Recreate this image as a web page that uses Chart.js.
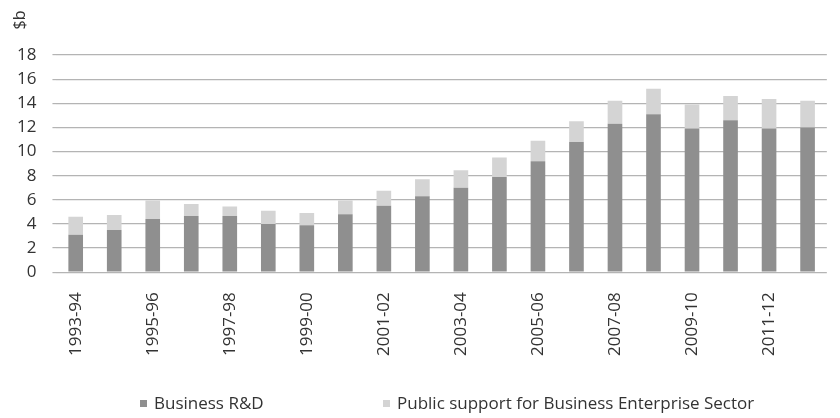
<!DOCTYPE html>
<html>
<head>
<meta charset="utf-8">
<script src="https://cdn.jsdelivr.net/npm/chart.js@4/dist/chart.umd.min.js"></script>
<style>
  html, body { margin: 0; padding: 0; background: #fff; }
  #wrap { width: 840px; height: 418px; position: relative; }
</style>
</head>
<body>
<div id="wrap"><canvas id="rdChart"></canvas></div>
<script>
// Financial years
const years = [
  '1993-94', '1994-95', '1995-96', '1996-97', '1997-98', '1998-99', '1999-00',
  '2000-01', '2001-02', '2002-03', '2003-04', '2004-05', '2005-06', '2006-07',
  '2007-08', '2008-09', '2009-10', '2010-11', '2011-12', '2012-13'
];
// $b
const businessRD = [3.1, 3.5, 4.4, 4.65, 4.65, 4.0, 3.9, 4.8, 5.5, 6.3,
                    7.0, 7.9, 9.2, 10.8, 12.3, 13.1, 11.9, 12.6, 11.9, 12.0];
const publicSupport = [1.5, 1.25, 1.55, 1.0, 0.8, 1.1, 1.0, 1.15, 1.25, 1.4,
                       1.45, 1.6, 1.7, 1.7, 1.9, 2.1, 2.0, 2.0, 2.45, 2.2];
const yMax = 18;
const yStep = 2;

const fontFamily = '"Open Sans", "Liberation Sans", sans-serif';
const textColor = '#333';

// "$b" written sideways above the axis
const unitLabel = {
  id: 'unitLabel',
  afterDraw(chart) {
    const ctx = chart.ctx;
    ctx.save();
    ctx.translate(20, 20);
    ctx.rotate(-Math.PI / 2);
    ctx.font = '16px ' + fontFamily;
    ctx.fillStyle = textColor;
    ctx.textAlign = 'center';
    ctx.textBaseline = 'middle';
    ctx.fillText('$b', 0, 0);
    ctx.restore();
  }
};

// legend drawn by hand so the two entries sit far apart like the original
const bottomLegend = {
  id: 'bottomLegend',
  afterDraw(chart) {
    const ctx = chart.ctx;
    const starts = [140, 383];
    const y = 404;
    ctx.save();
    ctx.font = '17px ' + fontFamily;
    ctx.textBaseline = 'middle';
    chart.data.datasets.forEach((ds, i) => {
      const x = starts[i];
      ctx.fillStyle = ds.backgroundColor;
      ctx.fillRect(x, y - 4, 7, 7);
      ctx.fillStyle = textColor;
      ctx.fillText(ds.label, x + 14, y);
    });
    ctx.restore();
  }
};

new Chart(document.getElementById('rdChart'), {
  type: 'bar',
  data: {
    labels: years,
    datasets: [
      {
        label: 'Business R&D',
        data: businessRD,
        backgroundColor: '#8f8f8f',
        barPercentage: 0.76,
        categoryPercentage: 0.5
      },
      {
        label: 'Public support for Business Enterprise Sector',
        data: publicSupport,
        backgroundColor: '#d4d4d4',
        barPercentage: 0.76,
        categoryPercentage: 0.5
      }
    ]
  },
  options: {
    responsive: true,
    maintainAspectRatio: false,
    animation: false,
    layout: { padding: { top: 55, right: 1, left: 1, bottom: 50 } },
    plugins: {
      legend: { display: false },
      tooltip: { enabled: false }
    },
    scales: {
      x: {
        stacked: true,
        grid: { display: false },
        border: { display: false },
        ticks: {
          autoSkip: false,
          maxRotation: 90,
          minRotation: 90,
          padding: 12,
          color: textColor,
          font: { family: fontFamily, size: 17 },
          callback: function(value, index) {
            return index % 2 === 0 ? years[index] : '';
          }
        }
      },
      y: {
        stacked: true,
        min: 0,
        max: yMax,
        grid: { color: '#b4b4b4', lineWidth: 1.2, tickLength: 4 },
        border: { display: false },
        ticks: {
          stepSize: yStep,
          autoSkip: false,
          color: textColor,
          padding: 16,
          font: { family: fontFamily, size: 17 }
        }
      }
    }
  },
  plugins: [unitLabel, bottomLegend]
});
</script>
</body>
</html>
